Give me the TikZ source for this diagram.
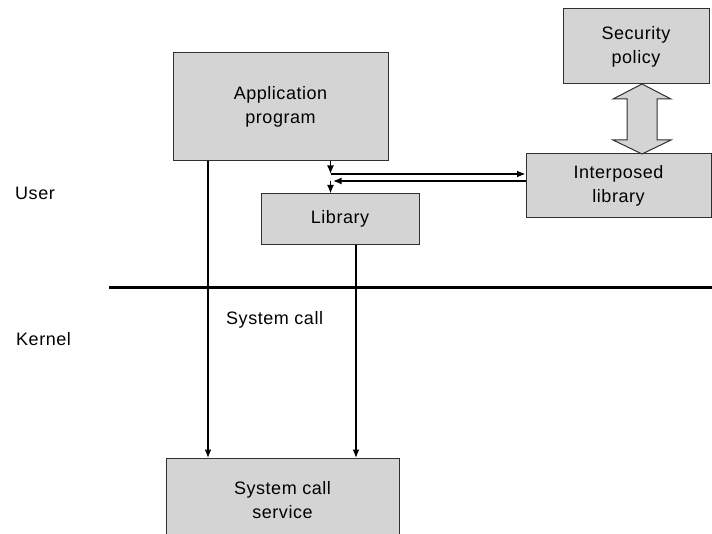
\documentclass[tikz,border=0pt]{standalone}
\usepackage{fontspec}
\setmainfont{Liberation Sans}[LetterSpace=3]
\usetikzlibrary{arrows.meta,calc}
\definecolor{boxfill}{HTML}{D4D4D4}
\definecolor{boxline}{HTML}{303030}
\tikzset{
  box/.style={draw=boxline, fill=boxfill, line width=1bp, inner sep=0pt,
    align=center, font=\fontsize{18bp}{24bp}\selectfont},
  lbl/.style={inner sep=0pt, anchor=base west, font=\fontsize{18bp}{24bp}\selectfont},
  flow/.style={line width=1.5bp, -{Latex[length=8.5bp,width=7bp]}},
  bigarrow/.style={draw=boxline, fill=boxfill, line width=1bp, line join=miter}
}
\begin{document}
\begin{tikzpicture}[x=1bp,y=-1bp]
\useasboundingbox (0,0) rectangle (712,534);
\begin{scope}
\clip (0,0) rectangle (712,534);

% boxes
\node[box, minimum width=215bp, minimum height=108bp] (app) at (280.5,107) {Application\\program};
\node[box, minimum width=158bp, minimum height=50bp] (lib) at (340,219) {Library};
\node[box, minimum width=185bp, minimum height=64bp] (intp) at (618.5,186) {Interposed\\library};
\node[box, minimum width=146bp, minimum height=75bp] (sec) at (636,46.5) {Security\\policy};
\node[box, minimum width=233bp, minimum height=84bp, anchor=north] (svc) at (282.5,458) {System call\\service};

% user/kernel boundary
\coordinate (bl) at (109,287.5);
\coordinate (br) at (714,287.5);
\draw[line width=3bp] (bl) -- (br);

% labels
\node[lbl] (user) at (15,200) {User};
\node[lbl] (kern) at (16,345) {Kernel};
\node[lbl] (sc) at (226,324) {System call};

% two-headed arrow between policy and interposed library
\coordinate (ptop) at (642,84);
\coordinate (pbot) at (642,154);
\draw[bigarrow] (ptop) -- ++(29,15) -- ++(-14,0) -- ++(0,41) -- ++(14,0)
  -- (pbot) -- ++(-29,-14) -- ++(14,0) -- ++(0,-41) -- ++(-14,0) -- cycle;

% direct system calls
\draw[flow] (app.south -| 208,0) -- (svc.north -| 208,0);
\draw[flow] (lib.south -| 356,0) -- (svc.north -| 356,0);

% call redirected through the interposed library
\coordinate (j1) at (330.5,174);
\coordinate (j2) at (330.5,181);
\draw[flow] (app.south -| j1) -- (j1);
\draw[flow] (j1) -- (intp.west |- j1);
\draw[flow] (intp.west |- j2) -- ($(j2)+(2.5,0)$);
\draw[flow] (j2) -- (lib.north -| j2);
\end{scope}
\end{tikzpicture}
\end{document}
